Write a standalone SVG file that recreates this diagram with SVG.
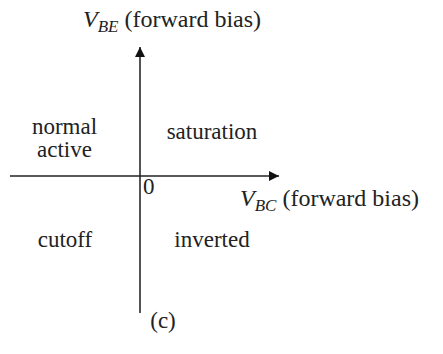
<svg xmlns="http://www.w3.org/2000/svg" width="443" height="354" viewBox="0 0 443 354" font-family="'Liberation Serif', 'DejaVu Serif', serif">
<defs>
<style>
text{font-family:'Liberation Serif','DejaVu Serif',serif;font-size:23px;fill:#222}
.lbl{font-size:24px}
.i{font-style:italic}
.sub{font-style:italic;font-size:17px}
</style>
<marker id="ah" markerWidth="10" markerHeight="14" refX="10" refY="7" orient="auto" markerUnits="userSpaceOnUse">
<path d="M0,2 L10,7 L0,12 Z" fill="#111"/>
</marker>
</defs>
<g id="connectors">
<line x1="140" y1="313" x2="140" y2="47" stroke="#555" stroke-width="2" marker-end="url(#ah)"/>
<line x1="10" y1="176" x2="279" y2="176" stroke="#222" stroke-width="1.6" marker-end="url(#ah)"/>
</g>
<g id="vbe-label"><text class="lbl" x="83" y="27"><tspan class="i">V</tspan><tspan class="sub" dy="5">BE</tspan><tspan dy="-5"> (forward bias)</tspan></text></g>
<g id="vbc-label"><text class="lbl" x="240" y="206"><tspan class="i">V</tspan><tspan class="sub" dy="5">BC</tspan><tspan dy="-5"> (forward bias)</tspan></text></g>
<g id="origin"><text x="143" y="194">0</text></g>
<g id="normal-active"><text x="64.5" y="134" text-anchor="middle">normal</text><text x="64.5" y="157" text-anchor="middle">active</text></g>
<g id="saturation"><text x="212" y="139" text-anchor="middle">saturation</text></g>
<g id="cutoff"><text x="65" y="247" text-anchor="middle">cutoff</text></g>
<g id="inverted"><text x="212" y="247" text-anchor="middle">inverted</text></g>
<g id="caption"><text x="163" y="328" text-anchor="middle">(c)</text></g>
</svg>
